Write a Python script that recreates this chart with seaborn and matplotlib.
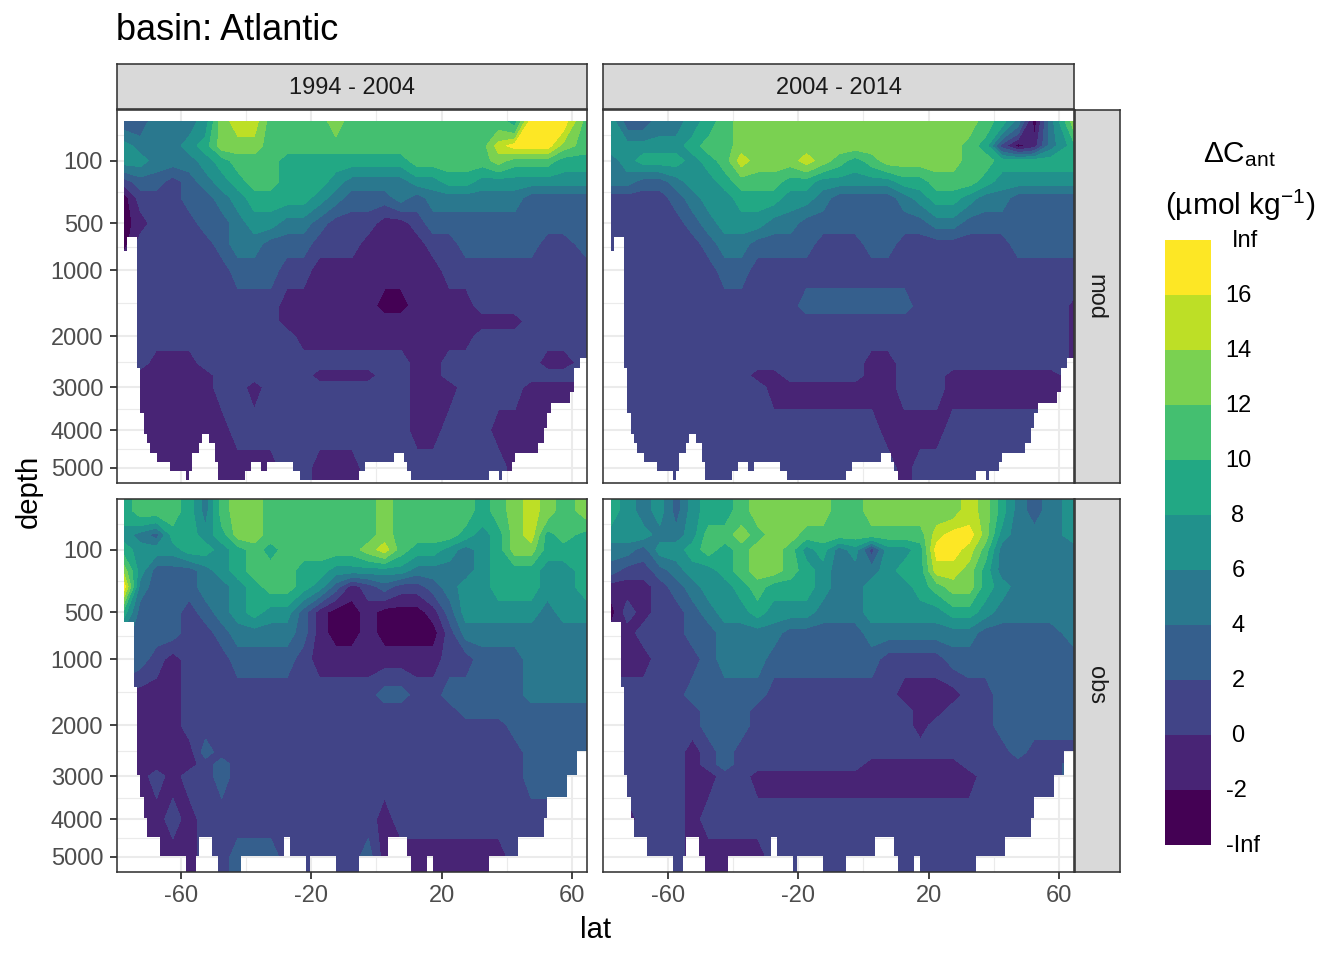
import numpy as np
import matplotlib
matplotlib.use("Agg")
import matplotlib.pyplot as plt
from matplotlib.patches import Polygon
import seaborn as sns

W, H = 1344, 960
lat = [-77.5,-72.5,-67.5,-62.5,-57.5,-52.5,-47.5,-42.5,-37.5,-32.5,-27.5,-22.5,-17.5,-12.5,-7.5,
       -2.5,2.5,7.5,12.5,17.5,22.5,27.5,32.5,37.5,42.5,47.5,52.5,57.5,64.5]
depth = [5,50,100,200,300,500,700,1000,1500,1750,2000,2500,2750,3000,4000,5000]

mod_9404 = [
 [3,3,5,5,5, 7,13,15,15,11, 11,11,11,13,11, 11,11,11,11,11, 11,11,11,11,9, 17,17,17,11],
 [7,5,5,5,7, 9,13,13,13,11, 11,11,11,11,11, 11,11,11,11,11, 11,11,11,15,17, 17,17,13,11],
 [7,7,5,5,5, 7,9,11,11,11, 9,9,9,9,9, 9,9,9,11,11, 11,11,11,13,11, 11,11,9,9],
 [1,3,3,1,3, 5,7,9,11,11, 9,9,9,7,5, 5,5,5,7,7, 9,9,7,7,7, 7,7,7,7],
 [-3,1,1,1,3, 3,5,7,9,9, 9,9,7,5,3, 3,3,5,3,5, 5,5,5,5,5, 3,3,3,3],
 [-3,-1,1,1,1, 3,3,5,7,7, 5,5,3,1,1, 1,-1,-1,1,3, 3,3,3,3,3, 3,3,3,3],
 [-3,1,1,1,1, 1,3,5,5,3, 3,3,1,1,1, -1,-1,-1,-1,1, 1,3,3,3,3, 3,1,1,3],
 [1,1,1,1,1, 1,1,3,3,3, 1,1,-1,-1,-1, -1,-1,-1,-1,-1, 1,1,1,1,1, 1,1,1,1],
 [1,1,1,1,1, 1,1,1,1,1, -1,-1,-1,-1,-1, -1,-3,-3,-1,-1, -1,-1,1,1,1, 1,1,1,1],
 [1,1,1,1,1, 1,1,1,1,1, -1,-1,-1,-1,-1, -1,-1,-1,-1,-1, -1,-1,-1,-1,-1, 1,1,1,1],
 [1,1,1,1,1, 1,1,1,1,1, 1,-1,-1,-1,-1, -1,-1,-1,-1,-1, -1,-1,1,1,1, 1,1,1,1],
 [1,1,-1,-1,-1, 1,1,1,1,1, 1,1,1,1,1, 1,1,1,-1,-1, 1,1,1,1,1, 1,-1,-1,1],
 [1,-1,-1,-1,-1, -1,1,1,1,1, 1,1,-1,-1,-1, -1,1,1,-1,-1, 1,1,1,1,1, 1,1,1,1],
 [-1,-1,-1,-1,-1, -1,1,1,-1,1, 1,1,1,1,1, 1,1,1,-1,-1, -1,1,1,1,1, -1,-1,-1,-1],
 [-1,-1,-1,-1,-1, -1,-1,1,1,1, 1,1,1,1,1, 1,1,1,-1,-1, 1,1,1,-1,-1, -1,-1,-1,-1],
 [-1,-1,-1,-1,-1, -1,-1,-1,-1,-1, 1,1,-1,-1,-1, 1,1,1,1,1, 1,1,1,1,-1, -1,-1,-1,-1],
]
mod_0414 = [
 [7,3,3,5,5, 7,9,11,13,13, 13,13,13,13,13, 13,13,13,13,13, 13,13,13,11,9, 5,-3,5,13],
 [7,7,7,7,7, 9,11,11,13,13, 13,13,13,13,13, 13,13,13,13,13, 13,13,11,9,1, -3,-1,5,9],
 [5,7,9,9,9, 7,9,11,15,13, 13,13,15,13,11, 9,11,13,13,13, 13,13,11,11,9, 9,9,9,9],
 [5,5,3,3,5, 7,7,9,11,11, 11,9,9,7,7, 7,7,7,9,9, 11,11,11,9,7, 7,7,7,7],
 [1,1,1,1,3, 5,7,7,9,9, 9,7,7,5,3, 3,3,3,5,7, 9,9,7,5,5, 3,3,3,3],
 [1,1,1,1,1, 3,5,7,7,7, 5,5,3,3,3, 3,3,3,3,3, 5,5,3,3,3, 3,3,3,3],
 [1,1,1,1,1, 1,3,5,5,3, 3,3,3,1,1, 1,3,3,1,1, 1,1,1,1,1, 3,3,3,3],
 [1,1,1,1,1, 1,1,3,3,1, 1,1,1,1,1, 1,1,1,1,1, 1,1,1,1,1, 1,1,1,1],
 [1,1,1,1,1, 1,1,1,1,1, 1,1,3,3,3, 3,3,3,3,1, 1,1,1,1,1, 1,1,1,-0.3],
 [1,1,1,1,1, 1,1,1,1,1, 1,1,1,1,1, 1,1,1,1,1, 1,1,1,1,1, 1,1,1,-0.3],
 [1,1,1,1,1, 1,1,1,1,1, 1,1,1,1,1, 1,1,1,1,1, 1,1,1,1,1, 1,1,1,-0.3],
 [1,1,1,1,1, 1,1,1,1,1, 1,1,1,1,1, 1,-1,-1,1,1, 1,1,1,1,1, 1,1,1,-0.3],
 [1,1,1,1,1, 1,1,1,1,-1, -1,1,1,1,1, 1,-1,-1,1,1, 1,-1,-1,-1,-1, -1,-1,-1,1],
 [1,1,1,1,1, 1,1,1,1,1, -1,-1,-1,-1,-1, -1,-1,-1,1,1, 1,-1,-1,-1,-1, -1,-1,-1,-1],
 [1,1,1,1,1, 1,1,1,1,1, 1,1,1,1,1, 1,1,-1,-1,-1, -1,1,1,1,1, 1,1,1,1],
 [1,1,1,1,1, 1,1,1,1,1, 1,1,1,1,1, 1,1,1,-1,1, 1,1,1,1,1, 1,1,1,1],
]
obs_9404 = [
 [9,11,11,11,9, 5,11,13,13,11, 11,11,11,11,11, 11,13,11,11,11, 11,11,9,11,13, 15,13,11,13],
 [7,5,3,9,9, 7,9,13,13,11, 11,11,11,11,11, 11,13,11,11,11, 11,9,7,9,13, 15,9,11,9],
 [9,7,7,7,9, 9,7,9,11,9, 11,11,11,11,11, 13,15,11,9,9, 7,5,7,9,13, 13,9,9,9],
 [13,7,3,3,3, 5,7,9,11,11, 11,9,9,7,7, 7,7,7,5,5, 5,5,7,9,9, 9,7,7,9],
 [17,5,3,3,3, 5,5,7,9,11, 11,9,7,3,-1, 1,3,1,1,3, 5,7,7,9,9, 9,7,7,9],
 [9,3,3,3,1, 3,5,7,9,7, 7,3,-1,-3,-3, -1,-3,-3,-3,-1, 3,7,7,7,7, 7,5,7,7],
 [5,3,3,3,1, 1,3,5,5,5, 5,3,-1,-3,-3, -1,-3,-3,-3,-3, 1,5,5,5,5, 5,5,5,5],
 [5,3,1,-1,1, 1,1,3,3,3, 3,1,-1,-1,-1, -1,-1,-1,-1,-1, 1,1,3,3,3, 5,5,5,5],
 [-1,-1,-1,-1,1, 1,1,1,1,1, 1,1,1,1,1, 1,3,3,1,1, 3,3,3,3,3, 5,5,5,5],
 [-1,-1,-1,-1,1, 1,1,1,1,1, 1,1,1,1,1, 1,1,1,1,1, 1,3,3,3,3, 3,3,3,3],
 [-1,-1,-1,-1,1, 1,1,1,1,1, 1,1,1,1,1, 1,1,1,1,1, 1,1,1,1,3, 3,3,3,3],
 [-1,-1,-1,-1,-1, 3,1,1,1,1, 1,1,1,1,1, 1,1,1,1,1, 1,1,1,1,1, 3,3,3,3],
 [-1,-1,-1,-1,-1, 1,3,1,1,1, 1,1,1,1,1, 1,1,1,1,1, 1,1,1,1,1, 3,3,3,3],
 [-1,-1,1,-1,1, 1,3,1,1,1, 1,1,1,1,1, 1,1,1,1,1, 1,1,1,1,1, 3,3,3,3],
 [1,-1,-1,1,-1, 1,1,1,1,1, 1,1,1,1,1, 1,-1,1,1,1, 1,1,1,1,1, 1,1,1,1],
 [-1,-1,-1,-1,-1, 1,1,3,3,3, 1,1,1,1,1, 3,-1,-1,-1,-1, -1,-1,-1,-1,1, 1,1,1,1],
]
obs_0414 = [
 [9,7,5,7,3, 7,9,9,11,13, 13,13,13,13,11, 11,13,13,13,13, 13,13,15,13,9, 5,3,5,7],
 [7,7,7,5,5, 7,11,11,13,11, 13,13,11,11,11, 11,11,11,11,11, 15,17,17,13,7, 5,5,5,7],
 [5,5,3,7,7, 9,11,9,11,13, 13,11,7,9,5, 7,1,7,7,9, 17,17,15,11,5, 5,5,5,5],
 [3,1,1,3,5, 7,7,9,11,13, 13,11,9,7,5, 5,5,7,9,9, 15,15,13,9,5, 5,5,5,5],
 [-1,-1,-1,1,3, 5,7,7,9,11, 9,9,9,7,5, 5,7,7,7,9, 11,13,13,9,7, 5,5,5,5],
 [-3,1,-1,1,1, 3,5,7,7,9, 7,7,7,5,5, 5,7,7,7,7, 7,9,9,7,5, 5,5,5,5],
 [-1,-1,1,1,1, 3,3,5,5,5, 5,3,3,3,3, 3,5,5,5,5, 5,5,5,3,3, 3,3,3,5],
 [-1,-1,-1,1,1, 1,3,5,5,5, 3,3,3,3,3, 3,3,1,1,1, 1,3,3,3,3, 3,3,3,3],
 [1,1,1,1,1, 3,3,3,3,3, 1,1,1,1,1, 1,1,1,-1,-1, -1,-1,1,1,3, 3,3,3,3],
 [1,1,1,1,1, 1,3,3,3,1, 1,1,1,1,1, 1,1,1,1,-1, -1,1,1,1,3, 3,3,3,3],
 [1,1,1,1,1, 1,3,3,3,1, 1,1,1,1,1, 1,1,1,1,-1, 1,1,1,1,3, 3,3,3,3],
 [1,1,1,1,1, -1,1,3,1,1, 1,1,1,1,1, 1,1,1,1,1, 1,1,1,1,1, 3,1,1,1],
 [1,1,1,1,1, -1,1,3,1,1, 1,1,1,1,1, 1,-1,-1,-1,-1, -1,-1,1,1,1, 1,1,1,3],
 [1,1,1,1,1, -1,-1,1,1,-1, -1,-1,-1,-1,-1, -1,-1,-1,-1,-1, -1,-1,-1,1,1, 1,1,1,3],
 [1,-1,1,1,1, -1,1,1,1,1, 1,1,1,1,1, 1,1,1,1,1, 1,1,1,1,1, 1,1,1,1],
 [1,1,1,1,1, -1,-1,-1,-1,-1, 1,1,1,1,1, 1,1,1,1,1, 1,1,1,1,1, 1,1,1,1],
]

# sea floor staircases (lat edges, deepest filled depth between edges)
floor_lat_mod = [-77.5,-76.5,-73.5,-72.5,-71.5,-70.5,-69.5,-67.5,-63.5,-58.5,-57.5,-56.5,-54.5,-53.5,-51.5,-49.5,-48.5,-40.5,
                 -38.5,-35.5,-33.5,-25.5,-23.5,-5.5,-3.5,5.5,8.5,9.5,10.5,34.5,37.5,38.5,41.5,42.5,49.5,51.5,52.5,53.5,59.5,60.5,62.5,64.5]
floor_dep_mod = [773,626,2606,3590,4100,4340,4590,4830,5085,5350,5085,4590,4340,4100,4340,4830,5350,5085,4830,5085,4830,
                 5085,5350,5085,4830,4590,4830,5085,5350,5085,5350,5085,4830,4590,4340,3950,3590,3345,3100,2606,2410]
floor_lat_obs = [-77.5,-74.5,-73.5,-72.5,-71.5,-70.5,-66.5,-58.5,-55.5,-54.5,-50.5,-48.5,-41.5,-28.5,-26.5,-21.5,-20.5,-12.5,
                 -5.5,3.5,9.5,10.5,15.5,17.5,34.5,43.5,51.5,52.5,58.5,61.5,64.5]
floor_dep_obs = [587,1376,2975,3460,3967,4454,4977,5433,4977,4454,4977,5433,4977,4454,4977,5433,4977,5433,4977,4454,4977,
                 5433,4977,5433,4977,4454,3967,3460,2975,2480]

levels = [-100,-2,0,2,4,6,8,10,12,14,16,100]
legend_labels = ["-Inf","-2","0","2","4","6","8","10","12","14","16","Inf"]
periods = ["1994 - 2004","2004 - 2014"]
rows = ["mod","obs"]
y_ticks = [100,500,1000,2000,3000,4000,5000]
x_ticks = [-60,-20,20,60]

sns.set_theme(style="white")
plt.rcParams["font.family"] = ["Liberation Sans","DejaVu Sans"]
plt.rcParams["mathtext.fontset"] = "custom"
plt.rcParams["mathtext.rm"] = "Liberation Sans"
plt.rcParams["mathtext.it"] = "Liberation Sans"
plt.rcParams["mathtext.bf"] = "Liberation Sans"
colors = sns.color_palette("viridis", as_cmap=True)(np.linspace(0, 1, 11))

fig = plt.figure(figsize=(W/100, H/100), dpi=100, facecolor="white")

def axpx(x0, y0, x1, y1):
    return fig.add_axes([x0/W, 1-y1/H, (x1-x0)/W, (y1-y0)/H])

def fwd(v):
    return np.sqrt(np.maximum(v, 0))
def inv(v):
    return np.asarray(v)**2

GR20 = "#333333"
LW = 1.15
boxes = {(0,0):(117,110,587,483),(0,1):(603,110,1074,483),(1,0):(117,499,587,872),(1,1):(603,499,1074,872)}
panels = {(0,0):mod_9404,(0,1):mod_0414,(1,0):obs_9404,(1,1):obs_0414}
minor_y = [((a**0.5+b**0.5)/2)**2 for a,b in zip([0]+y_ticks[:-1], y_ticks)]

for (r,c),box in boxes.items():
    ax = axpx(*box)
    ax.set_yscale("function", functions=(fwd, inv))
    ax.set_xlim(-60+(box[0]-(181 if c==0 else 668))/3.2575, -60+(box[2]-(181 if c==0 else 668))/3.2575)
    ax.set_ylim(5433, 0)
    ax.set_axisbelow(True)
    ax.set_xticks(x_ticks)
    ax.set_xticks([-40,0,40], minor=True)
    ax.set_yticks(y_ticks)
    ax.set_yticks(minor_y, minor=True)
    ax.grid(True, which="major", color="#EBEBEB", lw=1.5)
    ax.grid(True, which="minor", color="#EBEBEB", lw=0.8)
    ax.tick_params(which="minor", length=0)
    ax.tick_params(which="major", length=5, width=1.3, color=GR20, labelcolor="#4D4D4D", labelsize=17.0, pad=5,
                   bottom=(r==1), left=(c==0), labelbottom=(r==1), labelleft=(c==0))
    ax.tick_params(axis="x", which="major", pad=4)
    ax.set_yticklabels([str(t) for t in y_ticks] if c==0 else [])
    ax.set_xticklabels([str(t) for t in x_ticks] if r==1 else [])
    for lb in ax.get_yticklabels():
        lb.set_verticalalignment("center_baseline")
    for s in ax.spines.values():
        s.set_color(GR20); s.set_linewidth(LW); s.set_visible(True); s.set_zorder(5)

    Z = np.array(panels[(r,c)], dtype=float)
    Z2 = np.vstack([Z[0], Z, Z[-1]])
    d2 = np.array([0]+depth+[5600], dtype=float)
    cs = ax.contourf(lat, d2, Z2, levels=levels, colors=colors, zorder=2)

    fl, fd = (floor_lat_mod, floor_dep_mod) if r==0 else (floor_lat_obs, floor_dep_obs)
    top = 5 if r==0 else 0
    xs = np.repeat(fl, 2)[1:-1]
    ys = np.repeat(fd, 2)
    verts = [(fl[0], top)] + list(zip(xs, ys)) + [(fl[-1], top)]
    clip = Polygon(verts, closed=True, transform=ax.transData, fc="none", ec="none")
    ax.add_patch(clip)
    cs.set_clip_path(clip)

    if r==0:
        st = axpx(box[0],64,box[2],109)
        st.set_facecolor("#D9D9D9")
        st.set_xticks([]); st.set_yticks([])
        for s in st.spines.values():
            s.set_color(GR20); s.set_linewidth(LW); s.set_visible(True)
        st.text(0.5,0.46,periods[c],ha="center",va="center",transform=st.transAxes,fontsize=17.0,color="#1A1A1A")
    if c==1:
        st = axpx(1075,box[1],1120,box[3])
        st.set_facecolor("#D9D9D9")
        st.set_xticks([]); st.set_yticks([])
        for s in st.spines.values():
            s.set_color(GR20); s.set_linewidth(LW); s.set_visible(True)
        st.text(0.46,0.5,rows[r],ha="center",va="center",rotation=-90,transform=st.transAxes,fontsize=17.0,color="#1A1A1A")

def T(x, y, s, **kw):
    fig.text(x/W, 1-y/H, s, **kw)

T(116, 31, "basin: Atlantic", fontsize=26.0, color="black", ha="left", va="center")
T(596, 930, "lat", fontsize=21.1, color="black", ha="center", va="center")
T(29, 491, "depth", fontsize=21.1, color="black", ha="center", va="center", rotation=90)

# legend
lg = axpx(1165, 240, 1211, 845)
lg.axis("off")
sns.heatmap(np.arange(11)[:, None][::-1], ax=lg, cmap=matplotlib.colors.ListedColormap(colors), cbar=False,
            xticklabels=False, yticklabels=False, vmin=-0.5, vmax=10.5)
lab_x = [1243,1236,1238,1238,1238,1238,1238,1238,1238,1238,1238,1245]
for i,(lb,lx) in enumerate(zip(legend_labels, lab_x)):
    T(lx, 846-i*55.0, lb, fontsize=17.0, color="black", ha="center", va="center")
T(1239, 155, r"$\Delta\mathrm{C}_{\mathrm{ant}}$", fontsize=21.5, color="black", ha="center", va="center")
T(1240, 205, r"(µmol kg$^{-1}$)", fontsize=21.5, color="black", ha="center", va="center")

fig.savefig("out.png", dpi=100)
